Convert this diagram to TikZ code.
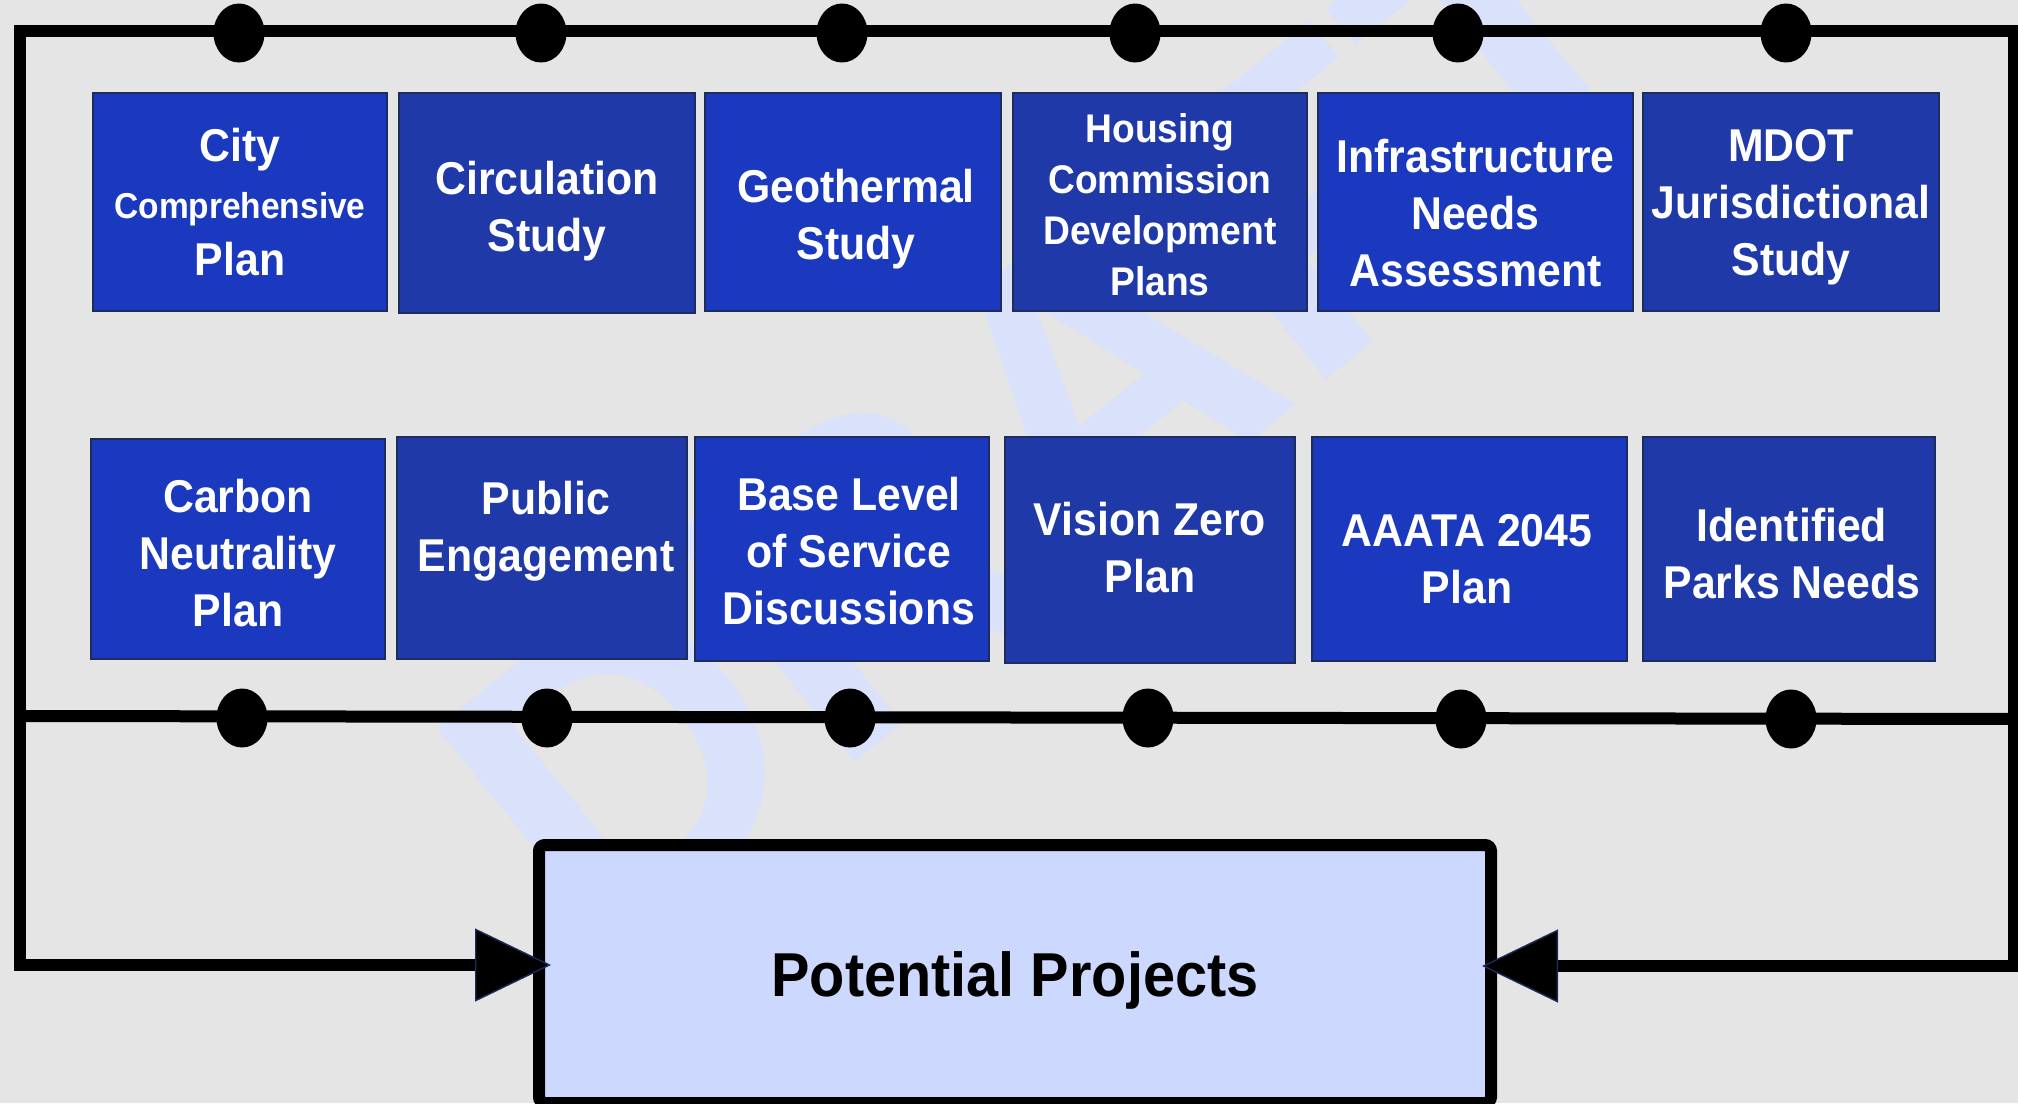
\documentclass[tikz,border=0pt]{standalone}
\usepackage{fontspec}
\setmainfont{Liberation Sans}[FakeStretch=0.93]
\newfontfamily\wmfont{Liberation Sans}
\usetikzlibrary{shapes.geometric,arrows.meta,calc}
\definecolor{bg}{RGB}{229,229,229}
\definecolor{wm}{RGB}{218,225,250}
\definecolor{boxA}{RGB}{26,57,190}
\definecolor{boxB}{RGB}{31,58,168}
\definecolor{edge}{RGB}{30,44,92}
\definecolor{ppfill}{RGB}{204,216,253}
\begin{document}
\begin{tikzpicture}[x=0.5pt,y=-0.5pt,
  wire/.style={line width=6pt, line join=miter},
  dot/.style={ellipse, fill=black, minimum width=25.5pt, minimum height=29.5pt, inner sep=0pt},
  srcbox/.style={rectangle, draw=edge, line width=0.8pt, inner sep=0pt},
  lbl/.style={text=white, align=center, inner sep=0pt, font=\bfseries\fontsize{23}{28.5}\selectfont},
  smalllbl/.style={text=white, align=center, inner sep=0pt, font=\bfseries\fontsize{20}{25.5}\selectfont},
  ptip/.tip={Triangle[length=38pt,width=36.5pt,line width=0.7pt,color=edge,fill=black]}
]
\useasboundingbox (0,0) rectangle (2018,1103);
\fill[bg] (0,0) rectangle (2018,1103);

% watermark
\node[rotate=39, text=wm, inner sep=0pt, font=\wmfont\bfseries\fontsize{210}{210}\selectfont] (wmk) at (1060,410) {DRAFT};

% coordinates of the wiring
\coordinate (tl) at (20,31);
\coordinate (tr) at (2014,31);
\coordinate (bl) at (20,716);
\coordinate (br) at (2014,719);
\coordinate (la) at (20,965);
\coordinate (ra) at (2014,966);

% target box
\node[draw=black, line width=6pt, fill=ppfill, rounded corners=3pt,
      minimum width=476pt, minimum height=129pt, inner sep=0pt,
      font=\bfseries\fontsize{31}{36}\selectfont, text height=22.2pt, text depth=0pt]
      (pp) at (1015,974) {Potential Projects};

% wiring
\draw[wire, {ptip}-{ptip}] ($(pp.west|-la)+(18,0)$) -- (la) -- (tl) -- (tr) -- (ra) -- ($(pp.east|-ra)+(-15,0)$);
\draw[wire] (bl) -- (br);

% dots on top line
\node[dot] (t1) at (239,33) {};
\node[dot] (t2) at (541,33) {};
\node[dot] (t3) at (842,33) {};
\node[dot] (t4) at (1135,33) {};
\node[dot] (t5) at (1458,33) {};
\node[dot] (t6) at (1786,33) {};
% dots on bottom line
\node[dot] (u1) at (242,718) {};
\node[dot] (u2) at (547,718) {};
\node[dot] (u3) at (850,718) {};
\node[dot] (u4) at (1148,718) {};
\node[dot] (u5) at (1461,719) {};
\node[dot] (u6) at (1791,719) {};

% top row boxes
\node[srcbox, fill=boxA, minimum width=147pt, minimum height=109pt] (b1) at (240,202) {};
\node[srcbox, fill=boxB, minimum width=148pt, minimum height=110pt] (b2) at (547,203) {};
\node[srcbox, fill=boxA, minimum width=148pt, minimum height=109pt] (b3) at (853,202) {};
\node[srcbox, fill=boxB, minimum width=147pt, minimum height=109pt] (b4) at (1160,202) {};
\node[srcbox, fill=boxA, minimum width=157.5pt, minimum height=109pt] (b5) at (1475.5,202) {};
\node[srcbox, fill=boxB, minimum width=148pt, minimum height=109pt] (b6) at (1791,202) {};

\node[lbl] (b1t) at (240,202.5) {City\\{\fontsize{18}{25}\selectfont Comprehensive}\\Plan};
\node[lbl] (b2t) at (547,211) {Circulation\\Study};
\node[lbl] (b3t) at (856,219) {Geothermal\\Study};
\node[smalllbl] (b4t) at (1160,205) {Housing\\Commission\\Development\\Plans};
\node[lbl] (b5t) at (1475.5,213.5) {Infrastructure\\Needs\\Assessment};
\node[lbl] (b6t) at (1791,207) {MDOT\\Jurisdictional\\Study};

% bottom row boxes
\node[srcbox, fill=boxA, minimum width=147pt, minimum height=110pt] (c1) at (238,549) {};
\node[srcbox, fill=boxB, minimum width=145pt, minimum height=111pt] (c2) at (542,548) {};
\node[srcbox, fill=boxA, minimum width=147pt, minimum height=112pt] (c3) at (842,549) {};
\node[srcbox, fill=boxB, minimum width=145pt, minimum height=113pt] (c4) at (1150,550) {};
\node[srcbox, fill=boxA, minimum width=157.5pt, minimum height=112pt] (c5) at (1469.5,549) {};
\node[srcbox, fill=boxB, minimum width=146pt, minimum height=112pt] (c6) at (1789,549) {};

\node[lbl] (c1t) at (238,553) {Carbon\\Neutrality\\Plan};
\node[lbl] (c2t) at (546,531) {Public\\Engagement};
\node[lbl] (c3t) at (849,551) {Base Level\\of Service\\Discussions};
\node[lbl] (c4t) at (1150,547.5) {Vision Zero\\Plan};
\node[lbl] (c5t) at (1467,559) {AAATA 2045\\Plan};
\node[lbl] (c6t) at (1792,553.5) {Identified\\Parks Needs};
\end{tikzpicture}
\end{document}
